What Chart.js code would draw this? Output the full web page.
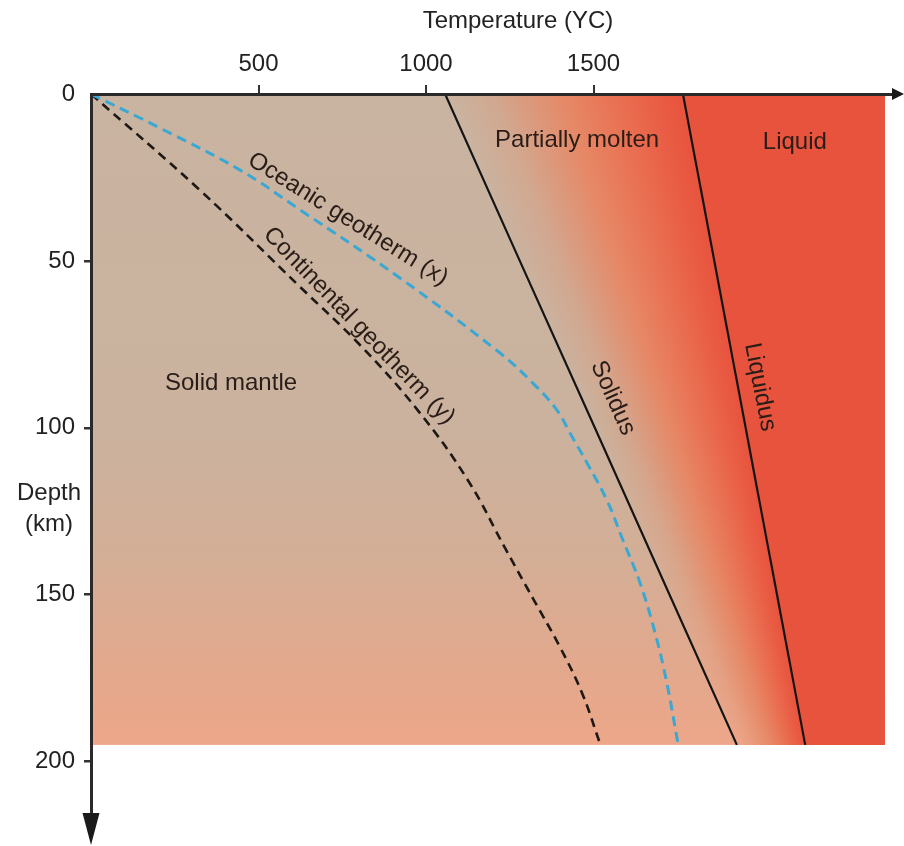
<!DOCTYPE html>
<html>
<head>
<meta charset="utf-8">
<script src="https://cdn.jsdelivr.net/npm/chart.js@4.4.1/dist/chart.umd.min.js"></script>
<style>
html,body{margin:0;padding:0;background:#fff;}
#wrap{width:904px;height:846px;position:relative;}
</style>
</head>
<body>
<div id="wrap"><canvas id="c" width="904" height="846"></canvas></div>
<script>
// ---- data (temperature °C, depth km) ----
const xTicks = [500, 1000, 1500];
const yTicks = [0, 50, 100, 150, 200];
const solidusT = [1057, 1280, 1504, 1727, 1928];
const solidusZ = [0, 50, 100, 150, 195];
const liquidusT = [1767, 2132];
const liquidusZ = [0, 195];
const oceanicT = [0, 206, 445, 624, 922, 1221, 1319, 1391, 1430, 1481, 1540, 1588, 1639, 1684, 1719, 1752];
const oceanicZ = [0, 10.2, 22.8, 34.7, 55.1, 77.6, 86.6, 94.7, 101.6, 110.6, 121.7, 133.7, 146.5, 161.5, 176.5, 194.5];
const continentalT = [0, 325, 624, 803, 975, 1125, 1239, 1322, 1400, 1466, 1519];
const continentalZ = [0, 28.8, 57.8, 75.2, 94.7, 115.7, 136.6, 151.6, 165.7, 179.5, 194.5];
const fieldMaxT = 2370;
const fieldMaxZ = 195;

const FONT = "'Liberation Sans', Arial, Helvetica, sans-serif";
const TXT = '#2a1d18';

function pts(T, Z) { return T.map((t, i) => ({ x: t, y: Z[i] })); }
function interp(Zs, Ts, z) {
  if (z <= Zs[0]) return Ts[0] + (Ts[1] - Ts[0]) * (z - Zs[0]) / (Zs[1] - Zs[0]);
  for (let i = 1; i < Zs.length; i++) {
    if (z <= Zs[i]) return Ts[i - 1] + (Ts[i] - Ts[i - 1]) * (z - Zs[i - 1]) / (Zs[i] - Zs[i - 1]);
  }
  const n = Zs.length - 1;
  return Ts[n - 1] + (Ts[n] - Ts[n - 1]) * (z - Zs[n - 1]) / (Zs[n] - Zs[n - 1]);
}
const bgStops = [[0, [201, 180, 161]], [100, [202, 178, 158]], [140, [212, 174, 150]], [175, [228, 168, 140]], [195, [237, 166, 137]]];
function bgAt(z) {
  for (let i = 1; i < bgStops.length; i++) {
    if (z <= bgStops[i][0]) {
      const a = bgStops[i - 1], b = bgStops[i];
      const f = Math.max(0, (z - a[0]) / (b[0] - a[0]));
      return a[1].map((v, k) => v + (b[1][k] - v) * f);
    }
  }
  return bgStops[bgStops.length - 1][1];
}
function mix(a, b, f) { return a.map((v, k) => v + (b[k] - v) * f); }
function rgb(c) { return 'rgb(' + c.map(v => Math.round(v)).join(',') + ')'; }
const RED = [232, 83, 62];

const backgroundPlugin = {
  id: 'fields',
  beforeDraw(chart) {
    const ctx = chart.ctx, xs = chart.scales.x, ys = chart.scales.y;
    const L = xs.getPixelForValue(0), R = xs.getPixelForValue(fieldMaxT);
    const T = ys.getPixelForValue(0), B = ys.getPixelForValue(fieldMaxZ);
    ctx.save();
    const g = ctx.createLinearGradient(0, T, 0, B);
    bgStops.forEach(s => g.addColorStop(s[0] / fieldMaxZ, rgb(s[1])));
    ctx.fillStyle = g;
    ctx.fillRect(L, T, R - L, B - T);
    for (let py = Math.floor(T); py < B; py++) {
      const z = ys.getValueForPixel(py + 0.5);
      const sx = xs.getPixelForValue(interp(solidusZ, solidusT, z));
      const lx = xs.getPixelForValue(interp(liquidusZ, liquidusT, z));
      const bg = bgAt(z);
      const gr = ctx.createLinearGradient(sx, 0, lx, 0);
      gr.addColorStop(0, rgb(bg));
      gr.addColorStop(0.2, rgb(mix(bg, [229, 140, 106], 0.3)));
      gr.addColorStop(0.5, rgb([230, 136, 102]));
      gr.addColorStop(0.72, rgb([233, 112, 82]));
      gr.addColorStop(0.9, rgb([233, 92, 68]));
      gr.addColorStop(1, rgb(RED));
      ctx.fillStyle = gr;
      ctx.fillRect(sx - 1, py, lx - sx + 2, 1);
      ctx.fillStyle = rgb(RED);
      ctx.fillRect(lx, py, R - lx, 1);
    }
    ctx.restore();
  }
};

const labelPlugin = {
  id: 'labels',
  afterDatasetsDraw(chart) {
    const ctx = chart.ctx, xs = chart.scales.x, ys = chart.scales.y;
    const items = [
      ['Solid mantle', 418, 86.6, 0],
      ['Partially molten', 1451, 13.8, 0],
      ['Liquid', 2101, 14.4, 0],
      ['Oceanic geotherm (x)', 767, 37.5, 32],
      ['Continental geotherm (y)', 800, 69.5, 46],
      ['Solidus', 1558, 91.1, 66],
      ['Liquidus', 1997, 87.8, 79]
    ];
    ctx.save();
    ctx.fillStyle = TXT;
    ctx.font = '24px ' + FONT;
    ctx.textAlign = 'center';
    ctx.textBaseline = 'middle';
    items.forEach(([t, x, y, a]) => {
      ctx.save();
      ctx.translate(xs.getPixelForValue(x), ys.getPixelForValue(y));
      ctx.rotate(a * Math.PI / 180);
      ctx.fillText(t, 0, 0);
      ctx.restore();
    });
    ctx.restore();
  },
  afterDraw(chart) {
    const ctx = chart.ctx, a = chart.chartArea;
    ctx.save();
    ctx.fillStyle = '#222';
    ctx.font = '24px ' + FONT;
    ctx.textAlign = 'center';
    ctx.textBaseline = 'middle';
    ctx.fillText('Temperature (YC)', 518, 21);
    ctx.fillText('Depth', 49, 493);
    ctx.fillText('(km)', 49, 524);
    // axis arrow heads
    ctx.fillStyle = '#1a1a1a';
    ctx.beginPath();
    ctx.moveTo(a.right - 3, a.top - 6);
    ctx.lineTo(a.right + 9, a.top);
    ctx.lineTo(a.right - 3, a.top + 6);
    ctx.closePath();
    ctx.fill();
    ctx.beginPath();
    ctx.moveTo(a.left - 8.5, a.bottom - 2);
    ctx.lineTo(a.left, a.bottom + 30);
    ctx.lineTo(a.left + 8.5, a.bottom - 2);
    ctx.closePath();
    ctx.fill();
    ctx.restore();
  }
};

const tickColor = c => (c.tick && c.tick.value === 0) ? 'rgba(0,0,0,0)' : '#333';

new Chart(document.getElementById('c'), {
  type: 'scatter',
  data: {
    datasets: [
      { label: 'Solidus', data: pts(solidusT, solidusZ), showLine: true, borderColor: '#151515', borderWidth: 2.2, pointRadius: 0, tension: 0 },
      { label: 'Liquidus', data: pts(liquidusT, liquidusZ), showLine: true, borderColor: '#151515', borderWidth: 2.2, pointRadius: 0, tension: 0 },
      { label: 'Oceanic geotherm (x)', data: pts(oceanicT, oceanicZ), showLine: true, borderColor: '#3aa8d2', borderWidth: 3, borderDash: [10, 6], pointRadius: 0, tension: 0.4 },
      { label: 'Continental geotherm (y)', data: pts(continentalT, continentalZ), showLine: true, borderColor: '#1e1814', borderWidth: 2.6, borderDash: [9, 6], pointRadius: 0, tension: 0.4 }
    ]
  },
  options: {
    responsive: false,
    animation: false,
    layout: { padding: { left: 0, top: 0, right: 9, bottom: 31 } },
    plugins: { legend: { display: false }, tooltip: { enabled: false } },
    scales: {
      x: {
        type: 'linear', position: 'top', min: 0, max: 2400,
        afterBuildTicks: s => { s.ticks = xTicks.map(v => ({ value: v })); },
        afterFit: s => { s.height = 94; },
        grid: { drawOnChartArea: false, drawTicks: true, tickLength: 9, color: '#333', lineWidth: 2 },
        border: { display: true, color: '#2a2a2a', width: 3, z: 1 },
        ticks: { font: { family: FONT, size: 24 }, color: '#222', padding: 6, maxRotation: 0, autoSkip: false, callback: v => String(v) }
      },
      y: {
        type: 'linear', position: 'left', reverse: true, min: 0, max: 216,
        afterBuildTicks: s => { s.ticks = yTicks.map(v => ({ value: v })); },
        afterFit: s => { s.width = 91; },
        grid: { drawOnChartArea: false, drawTicks: true, tickLength: 7, color: tickColor, lineWidth: 2.5 },
        border: { display: true, color: '#2a2a2a', width: 3, z: 1 },
        ticks: { font: { family: FONT, size: 24 }, color: '#222', padding: 9, autoSkip: false, callback: v => String(v) }
      }
    }
  },
  plugins: [backgroundPlugin, labelPlugin]
});
</script>
</body>
</html>
